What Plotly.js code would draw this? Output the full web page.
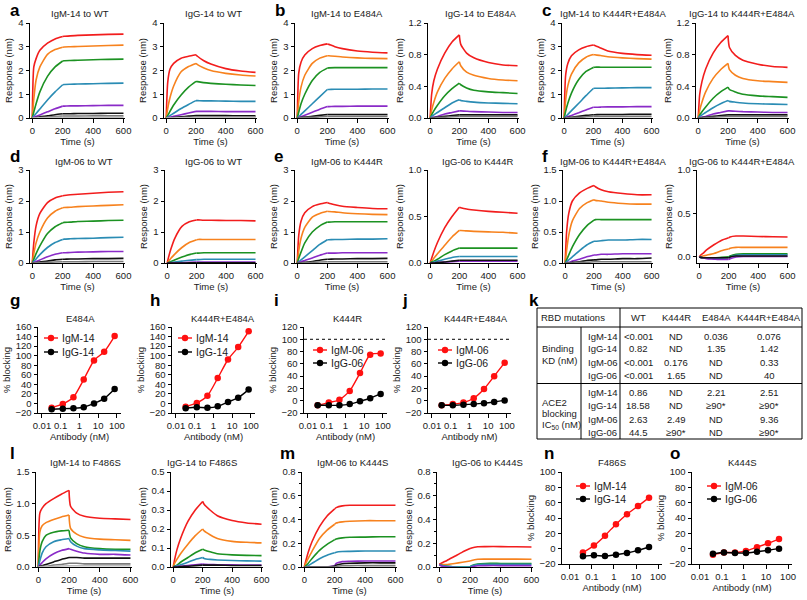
<!DOCTYPE html>
<html><head><meta charset="utf-8">
<script src="https://cdn.plot.ly/plotly-3.0.1.min.js"></script>
<style>html,body{margin:0;padding:0;background:#fff}#chart{width:807px;height:600px}</style>
</head><body><div id="chart"></div>
<script>
// ---------------- DATA ----------------
const T = [0,10,25,50,100,150,200,210,250,300,400,500,600]; // time (s); association 0-200, dissociation 200-600
const CURVE_COLORS = ['#f21d1d','#f7821e','#1c9222','#2a8cb4','#8a2bc8','#111111','#7a7a7a','#bdbdbd'];

// sensorgram curves per panel: [red, orange, green, teal, purple, black, gray, lightgray]
const IgM14_WT = [
 [0,2.15,2.5,2.85,3.15,3.33,3.43,3.44,3.46,3.48,3.5,3.52,3.53],
 [0,0.8,1.6,2.15,2.68,2.88,2.98,2.99,3.0,3.01,3.03,3.05,3.07],
 [0,0.25,0.6,1.1,1.75,2.15,2.4,2.41,2.42,2.43,2.45,2.47,2.48],
 [0,0.08,0.19,0.38,0.76,1.1,1.4,1.41,1.42,1.43,1.44,1.46,1.47],
 [0,0.03,0.07,0.13,0.26,0.39,0.5,0.5,0.51,0.51,0.52,0.53,0.53],
 [0,0.01,0.02,0.05,0.09,0.14,0.18,0.18,0.18,0.19,0.19,0.2,0.2],
 [0,0,0.01,0.02,0.04,0.06,0.08,0.08,0.08,0.08,0.09,0.09,0.09],
 [0,0,0,0.01,0.01,0.02,0.03,0.03,0.03,0.03,0.03,0.03,0.03]];
const IgG14_WT = [
 [0,1.5,2.05,2.3,2.52,2.6,2.66,2.6,2.42,2.27,2.08,1.98,1.92],
 [0,0.4,0.85,1.35,1.95,2.17,2.3,2.25,2.12,2.0,1.88,1.81,1.77],
 [0,0.1,0.28,0.55,0.97,1.3,1.54,1.53,1.49,1.46,1.42,1.39,1.37],
 [0,0.04,0.1,0.2,0.4,0.57,0.73,0.73,0.72,0.72,0.71,0.7,0.7],
 [0,0.015,0.04,0.07,0.14,0.21,0.28,0.28,0.28,0.28,0.27,0.27,0.27],
 [0,0.005,0.01,0.02,0.05,0.08,0.1,0.1,0.1,0.1,0.1,0.09,0.09],
 [0,0,0.005,0.01,0.02,0.03,0.05,0.05,0.05,0.05,0.05,0.05,0.05],
 [0,0,0,0,0.01,0.01,0.02,0.02,0.02,0.02,0.02,0.02,0.02]];
const IgM14_E484A = [
 [0,1.9,2.35,2.65,2.92,3.05,3.12,3.1,3.0,2.92,2.82,2.77,2.74],
 [0,0.7,1.3,1.8,2.3,2.52,2.62,2.62,2.6,2.57,2.53,2.51,2.5],
 [0,0.25,0.6,1.0,1.58,1.92,2.1,2.11,2.12,2.12,2.12,2.12,2.12],
 [0,0.06,0.15,0.3,0.6,0.9,1.2,1.2,1.21,1.21,1.21,1.22,1.22],
 [0,0.02,0.06,0.12,0.24,0.37,0.48,0.48,0.49,0.49,0.5,0.5,0.5],
 [0,0.005,0.02,0.04,0.07,0.11,0.15,0.15,0.15,0.15,0.15,0.15,0.15],
 [0,0,0.01,0.02,0.03,0.05,0.07,0.07,0.07,0.07,0.07,0.07,0.07]];
const IgG14_E484A = [
 [0,0.3,0.47,0.62,0.82,0.96,1.05,0.93,0.82,0.76,0.7,0.67,0.66],
 [0,0.1,0.2,0.33,0.5,0.62,0.71,0.66,0.58,0.54,0.5,0.48,0.47],
 [0,0.04,0.09,0.16,0.28,0.37,0.44,0.42,0.38,0.35,0.33,0.32,0.31],
 [0,0.02,0.04,0.07,0.13,0.19,0.23,0.22,0.21,0.2,0.19,0.185,0.18],
 [0,0.005,0.01,0.02,0.05,0.07,0.09,0.09,0.085,0.08,0.075,0.07,0.07],
 [0,0,0.005,0.01,0.02,0.03,0.04,0.04,0.04,0.04,0.04,0.04,0.04],
 [0,0,0,0.005,0.01,0.015,0.02,0.02,0.02,0.02,0.02,0.02,0.02]];
const IgM14_K444R_E484A = [
 [0,1.8,2.3,2.62,2.87,3.0,3.07,3.05,2.95,2.82,2.72,2.67,2.64],
 [0,0.75,1.35,1.85,2.32,2.56,2.67,2.66,2.63,2.58,2.53,2.5,2.48],
 [0,0.28,0.62,1.05,1.62,1.96,2.13,2.14,2.14,2.14,2.14,2.14,2.14],
 [0,0.06,0.15,0.31,0.62,0.94,1.24,1.25,1.25,1.26,1.27,1.28,1.28],
 [0,0.02,0.05,0.11,0.22,0.34,0.45,0.45,0.46,0.47,0.47,0.48,0.48],
 [0,0.005,0.02,0.03,0.07,0.11,0.14,0.14,0.15,0.15,0.15,0.16,0.16],
 [0,0,0.01,0.02,0.03,0.05,0.07,0.07,0.07,0.07,0.07,0.07,0.07]];
const IgG14_K444R_E484A = [
 [0,0.3,0.46,0.62,0.82,0.95,1.04,0.89,0.79,0.73,0.68,0.65,0.64],
 [0,0.1,0.2,0.33,0.5,0.61,0.69,0.61,0.54,0.5,0.47,0.46,0.45],
 [0,0.04,0.08,0.14,0.25,0.33,0.39,0.36,0.33,0.3,0.28,0.27,0.26],
 [0,0.02,0.04,0.07,0.13,0.18,0.22,0.21,0.2,0.19,0.18,0.175,0.17],
 [0,0.005,0.01,0.02,0.05,0.07,0.09,0.09,0.085,0.08,0.075,0.07,0.07],
 [0,0,0.005,0.01,0.02,0.03,0.04,0.04,0.04,0.04,0.04,0.04,0.04],
 [0,0,0,0.005,0.01,0.015,0.02,0.02,0.02,0.02,0.02,0.02,0.02]];
const IgM06_WT = [
 [0,0.65,1.2,1.6,1.95,2.1,2.17,2.18,2.2,2.22,2.25,2.28,2.3],
 [0,0.3,0.65,1.0,1.45,1.67,1.78,1.79,1.8,1.82,1.84,1.86,1.88],
 [0,0.12,0.3,0.55,0.95,1.17,1.3,1.31,1.32,1.34,1.35,1.37,1.38],
 [0,0.05,0.13,0.27,0.5,0.66,0.76,0.77,0.78,0.79,0.8,0.82,0.83],
 [0,0.02,0.05,0.1,0.2,0.28,0.33,0.33,0.34,0.35,0.36,0.37,0.37],
 [0,0.005,0.01,0.03,0.06,0.1,0.12,0.12,0.13,0.13,0.14,0.14,0.15],
 [0,0,0.005,0.01,0.02,0.03,0.04,0.04,0.04,0.04,0.05,0.05,0.05]];
const IgG06_WT = [
 [0,0.2,0.45,0.78,1.18,1.33,1.39,1.39,1.38,1.38,1.37,1.37,1.36],
 [0,0.06,0.15,0.28,0.5,0.66,0.75,0.76,0.76,0.76,0.76,0.76,0.76],
 [0,0.02,0.05,0.1,0.19,0.27,0.32,0.32,0.33,0.33,0.33,0.33,0.33],
 [0,0.005,0.015,0.03,0.06,0.09,0.11,0.11,0.12,0.12,0.12,0.12,0.12],
 [0,0,0,0.005,0.01,0.02,0.03,0.03,0.03,0.03,0.03,0.03,0.03],
 [0,0,0,0,0,0.005,0.01,0.01,0.01,0.01,0.01,0.01,0.01]];
const IgM06_K444R = [
 [0,0.9,1.35,1.62,1.82,1.9,1.95,1.93,1.88,1.83,1.79,1.76,1.75],
 [0,0.4,0.8,1.15,1.48,1.6,1.67,1.66,1.65,1.62,1.59,1.57,1.56],
 [0,0.15,0.35,0.65,1.0,1.2,1.32,1.32,1.33,1.33,1.33,1.33,1.33],
 [0,0.04,0.1,0.2,0.4,0.6,0.75,0.75,0.76,0.76,0.77,0.77,0.78],
 [0,0.02,0.04,0.08,0.16,0.25,0.32,0.32,0.32,0.33,0.33,0.33,0.33],
 [0,0.005,0.01,0.02,0.05,0.09,0.12,0.12,0.13,0.13,0.14,0.14,0.15],
 [0,0,0,0.01,0.02,0.03,0.04,0.04,0.04,0.04,0.04,0.04,0.04]];
const IgG06_K444R = [
 [0,0.05,0.12,0.22,0.38,0.5,0.6,0.595,0.58,0.57,0.555,0.545,0.535],
 [0,0.02,0.05,0.1,0.19,0.28,0.35,0.35,0.345,0.34,0.335,0.33,0.32],
 [0,0.01,0.02,0.04,0.09,0.13,0.16,0.16,0.16,0.16,0.16,0.16,0.16],
 [0,0,0.01,0.02,0.04,0.06,0.07,0.07,0.07,0.07,0.07,0.07,0.07],
 [0,0,0,0.005,0.01,0.015,0.02,0.02,0.02,0.02,0.02,0.02,0.02],
 [0,0,0,0.005,0.01,0.02,0.03,0.03,0.03,0.03,0.03,0.03,0.03]];
const IgM06_K444R_E484A = [
 [0,0.5,0.8,1.0,1.13,1.2,1.25,1.23,1.18,1.15,1.12,1.1,1.1],
 [0,0.2,0.45,0.68,0.88,0.97,1.02,1.01,1.0,0.98,0.96,0.95,0.95],
 [0,0.05,0.13,0.26,0.46,0.6,0.69,0.7,0.7,0.7,0.7,0.7,0.7],
 [0,0.02,0.05,0.1,0.2,0.29,0.35,0.35,0.36,0.37,0.37,0.38,0.38],
 [0,0.005,0.01,0.03,0.06,0.1,0.13,0.13,0.14,0.14,0.15,0.15,0.15],
 [0,0,0.005,0.01,0.02,0.04,0.05,0.05,0.06,0.06,0.07,0.07,0.08],
 [0,0,0,0,0.01,0.01,0.02,0.02,0.02,0.02,0.02,0.02,0.02]];
const IgG06_K444R_E484A = [
 [0,0.02,0.04,0.08,0.14,0.19,0.22,0.23,0.24,0.24,0.235,0.232,0.23],
 [0,0.005,0.01,0.02,0.04,0.07,0.09,0.1,0.11,0.11,0.11,0.11,0.11],
 [0,-0.005,-0.01,-0.01,-0.01,-0.005,0,0.01,0.03,0.035,0.035,0.035,0.035],
 [0,-0.005,-0.01,-0.015,-0.02,-0.015,-0.01,0,0.02,0.025,0.025,0.025,0.025],
 [0,-0.005,-0.01,-0.02,-0.025,-0.03,-0.03,-0.02,0,0.005,0.005,0.005,0.005],
 [0,-0.005,-0.01,-0.01,-0.01,-0.01,-0.01,0,0.01,0.01,0.01,0.01,0.01]];
const IgM14_F486S = [
 [0,0.85,0.93,1.0,1.08,1.15,1.21,0.96,0.85,0.8,0.77,0.76,0.75],
 [0,0.55,0.65,0.7,0.75,0.79,0.82,0.61,0.52,0.47,0.44,0.43,0.42],
 [0,0.25,0.4,0.5,0.55,0.57,0.58,0.46,0.37,0.32,0.29,0.28,0.28],
 [0,0.1,0.22,0.32,0.4,0.43,0.45,0.4,0.33,0.29,0.27,0.26,0.25],
 [0,0.03,0.07,0.13,0.21,0.26,0.29,0.28,0.25,0.22,0.2,0.2,0.19],
 [0,0.01,0.02,0.04,0.08,0.12,0.15,0.15,0.15,0.14,0.14,0.14,0.14],
 [0,0,0.01,0.01,0.03,0.04,0.06,0.06,0.06,0.05,0.05,0.05,0.05],
 [0,0,0,0.005,0.01,0.015,0.02,0.02,0.02,0.02,0.02,0.02,0.02]];
const IgG14_F486S = [
 [0,0.04,0.09,0.15,0.24,0.3,0.345,0.33,0.3,0.27,0.245,0.232,0.225],
 [0,0.02,0.04,0.07,0.12,0.165,0.2,0.19,0.17,0.15,0.135,0.13,0.127],
 [0,0.005,0.01,0.025,0.05,0.075,0.093,0.09,0.08,0.07,0.064,0.061,0.06],
 [0,0.003,0.006,0.012,0.025,0.04,0.05,0.045,0.04,0.037,0.034,0.032,0.031],
 [0,0,0.002,0.004,0.008,0.012,0.015,0.014,0.013,0.012,0.011,0.01,0.01],
 [0,0,0,0.002,0.004,0.007,0.01,0.01,0.01,0.01,0.008,0.008,0.008]];
const IgM06_K444S = [
 [0,0.05,0.12,0.21,0.34,0.43,0.49,0.5,0.515,0.52,0.52,0.52,0.52],
 [0,0.03,0.07,0.13,0.24,0.31,0.36,0.37,0.38,0.385,0.39,0.39,0.39],
 [0,0.01,0.03,0.07,0.14,0.19,0.23,0.235,0.245,0.25,0.252,0.255,0.255],
 [0,0,0.01,0.03,0.07,0.1,0.12,0.125,0.13,0.132,0.135,0.135,0.135],
 [0,0,0,0,0,0,0.01,0.03,0.045,0.048,0.05,0.05,0.05],
 [0,0,0,0,0,0,0.005,0.015,0.028,0.032,0.035,0.035,0.035],
 [0,0,0,0,0,0,0,0.005,0.01,0.012,0.012,0.012,0.012]];
const IgG06_K444S = [
 [0.025,0.03,0.04,0.055,0.09,0.125,0.155,0.16,0.17,0.172,0.172,0.17,0.168],
 [0.02,0.02,0.02,0.02,0.03,0.04,0.05,0.055,0.065,0.066,0.066,0.066,0.065],
 [0.02,0.015,0.01,0.005,0,0,0,0.01,0.025,0.03,0.03,0.03,0.03],
 [0.02,0.015,0.01,0.005,0,0,0,0.008,0.02,0.022,0.022,0.022,0.022],
 [0.02,0.01,0.005,0,-0.005,-0.008,-0.01,0,0.01,0.012,0.012,0.012,0.012]];

// dose-response (ACE2 blocking)
const concGJ = [0.033,0.13,0.48,1.7,6,21,76];      // nM, panels g-j
const concNO = [0.039,0.123,0.39,1.23,3.9,12.3,39]; // nM, panels n-o
const E484A_IgM14 = [-9,-1,13,50,90,108,141];
const E484A_IgG14 = [-12,-11,-10,-8,0,10,30];
const K444R_E484A_IgM14 = [-7,1,16,53,92,118,151];
const K444R_E484A_IgG14 = [-10,-8,-9,-6,3,12,29];
const K444R_IgM06 = [-7.5,-3,1.5,16,45,75,77];
const K444R_IgG06 = [-7.5,-7.5,-7.5,-5.5,-1,4,11];
const K444R_E484A_IgM06 = [-7.5,-5.5,-3,4,19,40,62];
const K444R_E484A_IgG06 = [-7.5,-7.5,-6.5,-5.5,-4,-2,0.5];
const F486S_IgM14 = [-5,4,17,32,45,55.5,66.5];
const F486S_IgG14 = [-10,-8.7,-9.6,-8,-5.7,-2.2,2.2];
const K444S_IgM06 = [-8,-5,-5,-3,2,7,12.5];
const K444S_IgG06 = [-6.5,-5,-5.7,-5.7,-4,-2.2,0];

// table k
const tableCols = ['WT','K444R','E484A','K444R+E484A'];
const tableAbs = ['IgM-14','IgG-14','IgM-06','IgG-06'];
const bindingKD = [['<0.001','ND','0.036','0.076'],['0.82','ND','1.35','1.42'],['<0.001','0.176','ND','0.33'],['<0.001','1.65','ND','40']];
const ace2IC50 = [['0.86','ND','2.21','2.51'],['18.58','ND','≥90*','≥90*'],['2.63','2.49','ND','9.36'],['44.5','≥90*','ND','≥90*']];

// ---------------- LAYOUT ----------------
const W = 807, H = 600;
const FONT = 'Liberation Sans, Arial, Helvetica, sans-serif';
const TXT = '#1a1a1a';
const px = v => v / W, py = v => 1 - v / H;

const sensor = [
 {title:'IgM-14 to WT', d:IgM14_WT, x0:30, x1:125, yt:23, yb:118, yr:[0,4], dt:1, fmt:'', tx:80},
 {title:'IgG-14 to WT', d:IgG14_WT, x0:164, x1:257, yt:23, yb:118, yr:[0,4], dt:1, fmt:'', tx:213},
 {title:'IgM-14 to E484A', d:IgM14_E484A, x0:295, x1:389, yt:23, yb:118, yr:[0,4], dt:1, fmt:'', tx:347},
 {title:'IgG-14 to E484A', d:IgG14_E484A, x0:428, x1:519, yt:23, yb:118, yr:[0,1.2], dt:0.4, fmt:'.1f', tx:480},
 {title:'IgM-14 to K444R+E484A', d:IgM14_K444R_E484A, x0:562, x1:653, yt:23, yb:118, yr:[0,4], dt:1, fmt:'', tx:613},
 {title:'IgG-14 to K444R+E484A', d:IgG14_K444R_E484A, x0:696, x1:789, yt:23, yb:118, yr:[0,1.2], dt:0.4, fmt:'.1f', tx:742},
 {title:'IgM-06 to WT', d:IgM06_WT, x0:30, x1:125, yt:170, yb:263, yr:[0,3], dt:1, fmt:'', tx:84},
 {title:'IgG-06 to WT', d:IgG06_WT, x0:165, x1:257, yt:170, yb:263, yr:[0,3], dt:1, fmt:'', tx:213},
 {title:'IgM-06 to K444R', d:IgM06_K444R, x0:295, x1:389, yt:170, yb:263, yr:[0,3], dt:1, fmt:'', tx:347},
 {title:'IgG-06 to K444R', d:IgG06_K444R, x0:428, x1:519, yt:170, yb:263, yr:[0,1], dt:0.5, fmt:'.1f', tx:478},
 {title:'IgM-06 to K444R+E484A', d:IgM06_K444R_E484A, x0:563, x1:653, yt:170, yb:263, yr:[0,1.5], dt:0.5, fmt:'.1f', tx:613},
 {title:'IgG-06 to K444R+E484A', d:IgG06_K444R_E484A, x0:697, x1:789, yt:170, yb:263, yr:[-0.07,1], dt:0.5, fmt:'.1f', tx:742},
 {title:'IgM-14 to F486S', d:IgM14_F486S, x0:36, x1:132, yt:472, yb:567, yr:[0,1.5], dt:0.5, fmt:'.1f', tx:85},
 {title:'IgG-14 to F486S', d:IgG14_F486S, x0:171, x1:263, yt:472, yb:567, yr:[0,0.5], dt:0.1, fmt:'.1f', tx:202},
 {title:'IgM-06 to K444S', d:IgM06_K444S, x0:302, x1:397, yt:472, yb:567, yr:[0,0.8], dt:0.2, fmt:'.1f', minor:0.1, tx:352},
 {title:'IgG-06 to K444S', d:IgG06_K444S, x0:437, x1:533, yt:472, yb:567, yr:[0,0.8], dt:0.2, fmt:'.1f', minor:0.1, tx:487}
];
const dose = [
 {title:'E484A', c:concGJ, s:[['IgM-14',E484A_IgM14],['IgG-14',E484A_IgG14]], x0:38, x1:121, yt:327, yb:413, yr:[-20,160], xr:[-2.21,2.22], xt:'Antibody (nM)', leg:[51,338,352], tx:80, dotted:false},
 {title:'K444R+E484A', c:concGJ, s:[['IgM-14',K444R_E484A_IgM14],['IgG-14',K444R_E484A_IgG14]], x0:172, x1:255, yt:327, yb:413, yr:[-20,160], xr:[-2.21,2.22], xt:'Antibody (nM)', leg:[185,338,352], tx:223, dotted:false},
 {title:'K444R', c:concGJ, s:[['IgM-06',K444R_IgM06],['IgG-06',K444R_IgG06]], x0:304, x1:387, yt:327, yb:413, yr:[-20,120], xr:[-2.21,2.22], xt:'Antibody (nM)', leg:[320,350,363], tx:347, dotted:true},
 {title:'K444R+E484A', c:concGJ, s:[['IgM-06',K444R_E484A_IgM06],['IgG-06',K444R_E484A_IgG06]], x0:428, x1:511, yt:327, yb:413, yr:[-20,120], xr:[-2.21,2.22], xt:'Antibody nM)', leg:[445,350,363], tx:476, dotted:true},
 {title:'F486S', c:concNO, s:[['IgM-14',F486S_IgM14],['IgG-14',F486S_IgG14]], x0:562, x1:662, yt:472, yb:564, yr:[-20,100], xr:[-2.36,2.18], xt:'Antibody (nM)', leg:[583,486,499], tx:612, dotted:false},
 {title:'K444S', c:concNO, s:[['IgM-06',K444S_IgM06],['IgG-06',K444S_IgG06]], x0:692, x1:792, yt:472, yb:564, yr:[-20,100], xr:[-2.36,2.18], xt:'Antibody (nM)', leg:[714,486,499], tx:742, dotted:false}
];
const letters = [['a',8,10],['b',273,10],['c',540,10],['d',8,156],['e',272,156],['f',540,156],
 ['g',8,300],['h',148,300],['i',272,300],['j',400,300],['k',527,300],['l',8,453],['m',278,453],['n',542,453],['o',668,453]];

const axBase = {showline:true, linecolor:'#000', linewidth:1, ticks:'outside', ticklen:3.5, tickwidth:1,
  tickcolor:'#000', showgrid:false, zeroline:false, tickfont:{family:FONT, size:9.5, color:TXT}, fixedrange:true};
const titleFont = {family:FONT, size:9.5, color:TXT};

const traces = [], layout = {width:W, height:H, margin:{l:0,r:0,t:0,b:0}, paper_bgcolor:'#fff', plot_bgcolor:'rgba(0,0,0,0)',
  font:{family:FONT, size:9.5, color:TXT}, showlegend:false, annotations:[], shapes:[]};
const sfx = n => n === 1 ? '' : String(n);
const KINK = T.indexOf(200);

sensor.forEach((p, i) => {
  const n = i + 1;
  p.d.forEach((ys, k) => {
    // association and dissociation phases drawn as separate smooth segments so the kink at 200 s stays sharp
    [[0, KINK + 1], [KINK, T.length]].forEach(([a, b]) => traces.push({type:'scatter', mode:'lines',
      x:T.slice(a, b), y:ys.slice(a, b), xaxis:'x'+sfx(n), yaxis:'y'+sfx(n),
      line:{color:CURVE_COLORS[k], width:1.6, shape:'spline', smoothing:0.6}, showlegend:false, hoverinfo:'skip'}));
  });
  layout['xaxis'+sfx(n)] = Object.assign({}, axBase, {domain:[px(p.x0), px(p.x1)], anchor:'y'+sfx(n), range:[-15,610],
    tickvals:[0,200,400,600], title:{text:'Time (s)', font:titleFont, standoff:2}});
  const ya = Object.assign({}, axBase, {domain:[py(p.yb), py(p.yt)], anchor:'x'+sfx(n), range:p.yr,
    tick0:0, dtick:p.dt, tickformat:p.fmt, title:{text:'Response (nm)', font:titleFont, standoff:3}});
  if (p.minor) ya.minor = {dtick:p.minor, tick0:0, ticks:'outside', ticklen:2, tickcolor:'#000', tickwidth:1};
  layout['yaxis'+sfx(n)] = ya;
  layout.annotations.push({xref:'paper', yref:'paper', x:px(p.tx), y:py(p.yt - 9), text:p.title,
    showarrow:false, font:{family:FONT, size:9.5, color:TXT}, xanchor:'center', yanchor:'middle'});
});

dose.forEach((p, i) => {
  const n = sensor.length + i + 1;
  p.s.forEach(([name, ys], k) => {
    const col = k === 0 ? '#ff1010' : '#000';
    traces.push({type:'scatter', mode:'lines+markers', name:name, x:p.c, y:ys, xaxis:'x'+n, yaxis:'y'+n,
      line:{color:col, width:1.4, shape:'spline', smoothing:0.6},
      marker:{color:col, size:6.5}, showlegend:false, hoverinfo:'skip'});
    // legend key (line + dot) and label
    const mx = p.leg[0], my = p.leg[1+k];
    layout.shapes.push({type:'line', xref:'paper', yref:'paper', x0:px(mx-7), x1:px(mx+7), y0:py(my), y1:py(my), line:{color:col, width:1.4}});
    layout.shapes.push({type:'circle', xref:'paper', yref:'paper', x0:px(mx-3.2), x1:px(mx+3.2), y0:py(my+3.2), y1:py(my-3.2), fillcolor:col, line:{color:col, width:0}});
    layout.annotations.push({xref:'paper', yref:'paper', x:px(mx+9), y:py(my), text:name, showarrow:false,
      xanchor:'left', yanchor:'middle', font:{family:FONT, size:10.5, color:TXT}});
  });
  layout['xaxis'+n] = Object.assign({}, axBase, {domain:[px(p.x0), px(p.x1)], anchor:'y'+n, type:'log', range:p.xr,
    tickvals:[0.01,0.1,1,10,100], ticktext:['0.01','0.1','1','10','100'], title:{text:p.xt, font:titleFont, standoff:2}});
  layout['yaxis'+n] = Object.assign({}, axBase, {domain:[py(p.yb), py(p.yt)], anchor:'x'+n, range:p.yr,
    tick0:-20, dtick:20, title:{text:'% blocking', font:titleFont, standoff:3}});
  layout.annotations.push({xref:'paper', yref:'paper', x:px(p.tx), y:py(p.yt - 9), text:p.title,
    showarrow:false, xanchor:'center', yanchor:'middle', font:{family:FONT, size:9.5, color:TXT}});
  if (p.dotted) layout.shapes.push({type:'line', xref:'x'+n+' domain', x0:0, x1:1, yref:'y'+n, y0:100, y1:100,
    line:{color:'#000', width:1, dash:'dot'}});
});

letters.forEach(([t, x, y]) => layout.annotations.push({xref:'paper', yref:'paper', x:px(x), y:py(y), text:'<b>'+t+'</b>',
  showarrow:false, xanchor:'left', yanchor:'middle', font:{family:FONT, size:17, color:'#000'}}));

// table k
const tb = {l:537, r:802, t:308, hb:327, mid:383.5, b:439, c1:581, c2:620};
const line = (x0,y0,x1,y1) => ({type:'line', xref:'paper', yref:'paper', x0:px(x0), y0:py(y0), x1:px(x1), y1:py(y1), line:{color:'#000', width:1}});
layout.shapes.push({type:'rect', xref:'paper', yref:'paper', x0:px(tb.l), x1:px(tb.r), y0:py(tb.b), y1:py(tb.t), line:{color:'#000', width:1}});
layout.shapes.push(line(tb.l, tb.hb, tb.r, tb.hb), line(tb.l, tb.mid, tb.r, tb.mid), line(tb.c2, tb.t, tb.c2, tb.b), line(tb.c1, tb.hb, tb.c1, tb.b));
const tAnn = (text, x, y, anchor) => layout.annotations.push({xref:'paper', yref:'paper', x:px(x), y:py(y), text:text,
  showarrow:false, xanchor:anchor || 'center', yanchor:'middle', font:{family:FONT, size:9.5, color:TXT}});
tAnn('RBD mutations', 573, 317.5);
const colX = [638, 676, 716, 769];
tableCols.forEach((c, j) => tAnn(c, colX[j], 317.5));
tAnn('Binding', 540, 348.5, 'left'); tAnn('KD (nM)', 540, 360.5, 'left');
tAnn('ACE2', 540, 402, 'left'); tAnn('blocking', 540, 413, 'left'); tAnn('IC<sub>50</sub> (nM)', 540, 425, 'left');
const rowY1 = [336, 348.5, 362, 375], rowY2 = [392, 405.5, 419, 432.5];
tableAbs.forEach((a, r) => {
  tAnn(a, 586, rowY1[r], 'left'); tAnn(a, 586, rowY2[r], 'left');
  bindingKD[r].forEach((v, j) => tAnn(v, colX[j], rowY1[r]));
  ace2IC50[r].forEach((v, j) => tAnn(v, colX[j], rowY2[r]));
});

Plotly.newPlot('chart', traces, layout, {staticPlot:true, displayModeBar:false});
</script></body></html>
